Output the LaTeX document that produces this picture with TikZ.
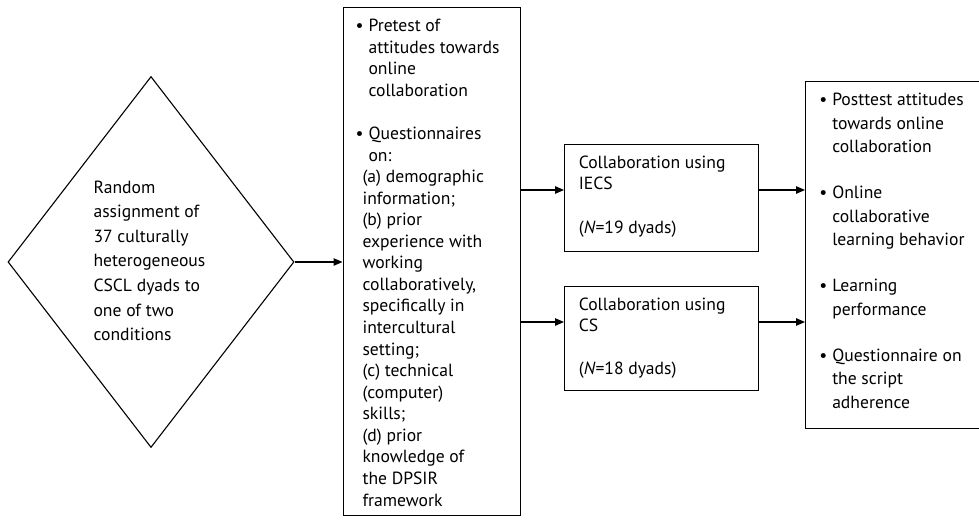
\documentclass[tikz,border=0pt]{standalone}
\usepackage{fontspec}
\setmainfont{PT Sans}
\usetikzlibrary{arrows.meta,shapes.geometric}
\newcommand\bul{\llap{•\hspace{5pt}}}
\begin{document}
\begin{tikzpicture}[x=1pt,y=-1pt,line width=1.1pt,
  box/.style={draw,rectangle,inner sep=0pt,anchor=north west},
  txt/.style={inner sep=0pt,anchor=base west,align=left},
  arr/.style={-{Triangle[length=9pt,width=7.5pt]}},
  fdia/.style={font=\fontsize{17.6}{24.6}\selectfont},
  fbox/.style={font=\fontsize{17.6}{21.56}\selectfont},
  fout/.style={font=\fontsize{17.6}{23.25}\selectfont}]
\useasboundingbox (0,0) rectangle (979,519);
% shapes
\node[draw,diamond,inner sep=0pt,minimum width=286pt,minimum height=371pt] (dia) at (151,262) {};
\node[box,minimum width=177.5pt,minimum height=508pt] (b2) at (342.5,7) {};
\node[box,minimum width=194pt,minimum height=107pt] (b3) at (564,144) {};
\node[box,minimum width=194pt,minimum height=104pt] (b4) at (564,286) {};
\node[box,minimum width=175pt,minimum height=347.6pt] (b5) at (805,80.7) {};
% texts (anchor = baseline of the last line)
\node[txt,fdia] (tdia) at (93,340.6) {Random\\assignment of\\37 culturally\\heterogeneous\\CSCL dyads to\\one of two\\conditions};
\node[txt,fbox] (tb2) at (362,506) {\hspace*{6pt}\bul Pretest of\\
\hspace*{6pt}attitudes towards\\
\hspace*{6pt}online\\
\hspace*{6pt}collaboration\\[21.56pt]
\hspace*{6pt}\bul Questionnaires\\
\hspace*{6pt}on:\\
(a) demographic\\
information;\\
(b) prior\\
experience with\\
working\\
collaboratively,\\
specifically in\\
intercultural\\
setting;\\
(c) technical\\
(computer)\\
skills;\\
(d) prior\\
knowledge of\\
the DPSIR\\
framework};
\node[txt,fbox] (tb3) at (578.3,233.1) {Collaboration using\\IECS\\[21.6pt](\textit{N}=19 dyads)};
\node[txt,fbox] (tb4) at (578.3,374.8) {Collaboration using\\CS\\[21.6pt](\textit{N}=18 dyads)};
\node[txt,fout] (tb5) at (831.7,408) {\bul Posttest attitudes\\
towards online\\
collaboration\\[23.25pt]
\bul Online\\
collaborative\\
learning behavior\\[23.25pt]
\bul Learning\\
performance\\[23.25pt]
\bul Questionnaire on\\
the script\\
adherence};
% connectors
\coordinate (r1) at (0,190);
\coordinate (r2) at (0,322);
\draw[arr] (dia.east) -- (b2.west |- dia.east);
\draw[arr] (b2.east |- r1) -- (b3.west |- r1);
\draw[arr] (b2.east |- r2) -- (b4.west |- r2);
\draw[arr] (b3.east |- r1) -- (b5.west |- r1);
\draw[arr] (b4.east |- r2) -- (b5.west |- r2);
\end{tikzpicture}
\end{document}
